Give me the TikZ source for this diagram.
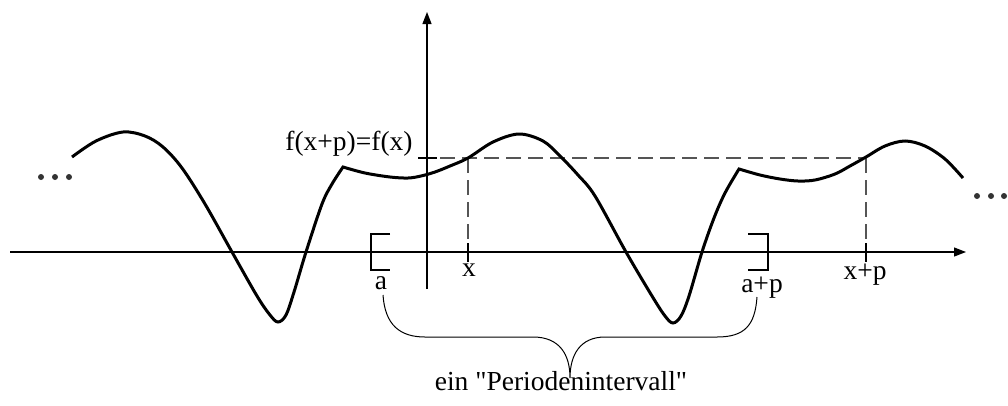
\documentclass[tikz,border=0pt]{standalone}
\usepackage{fontspec}
\setmainfont{Liberation Serif}[Ligatures=TeXOff]
\usepackage{tikz}
\usetikzlibrary{arrows.meta,positioning,calc}
\definecolor{PerInk}{HTML}{000000}
\definecolor{PerDash}{HTML}{555555}
\definecolor{PerDot}{HTML}{333333}
\tikzset{
  figlabel/.style={font=\fontsize{27.5}{30}\selectfont, text=PerInk, inner sep=0pt, anchor=base},
  figaxis/.style={-{Triangle[width=9pt,length=12pt]}, line width=1.2pt, draw=PerInk},
  figcurve/.style={line width=3pt, draw=PerInk, line join=miter},
  figdash/.style={line width=1.3pt, draw=PerDash, dash pattern=on 15pt off 7pt},
  figtick/.style={line width=1.3pt, draw=PerInk},
  figbracket/.style={line width=1.6pt, draw=PerInk},
  figbrace/.style={line width=1pt, draw=PerInk},
  figdot/.style={circle, fill=PerDot, inner sep=0pt, minimum size=6pt}
}

\begin{document}
\begin{tikzpicture}[x=1pt, y=-1pt]
\useasboundingbox (0,0) rectangle (1008,405);
% axes
\coordinate (xl) at (10,252);
\coordinate (xr) at (966,252);
\coordinate (yb) at (427,289);
\coordinate (yt) at (427,12);
\draw[figaxis] (xl) -- (xr);
\draw[figaxis] (yb) -- (yt);
% dashed guides
\coordinate (ya) at (418,158);
\coordinate (fx) at (468,158);
\coordinate (fxp) at (866,158);
\coordinate (xa) at (468,252);
\coordinate (xpa) at (866,252);
\draw[figdash] (ya) -- (fxp);
\draw[figdash] (fx) -- (xa);
\draw[figdash] (fxp) -- (xpa);
\draw[figtick] (ya) -- ++(19,0);
\draw[figtick] ($(xa)+(0,-9)$) -- ($(xa)+(0,10)$);
\draw[figtick] ($(xpa)+(0,-9)$) -- ($(xpa)+(0,10)$);
% the periodic function
\draw[figcurve] plot[smooth, tension=0.55] coordinates {(72,157) (96,141) (123,132) (145,136) (163,147) (182,168) (205,204) (232,252) (257,296) (270,315) (278,322) (286,315) (294,292) (306,252) (322,204) (332,184) (343,167)}
  -- plot[smooth, tension=0.55] coordinates {(343,167) (365,173) (390,177) (408,178) (421,176) (435,172) (450,166) (468,158) (493,142) (519,134) (543,141) (560,156) (578,175) (595,196) (626,252) (652,296) (665,316) (673,323) (681,316) (689,296) (702,252) (714,218) (725,193) (739,169)}
  -- plot[smooth, tension=0.55] coordinates {(739,169) (760,175) (780,179) (798,181) (815,180) (835,174) (850,166) (866,157) (885,146) (905,141) (925,146) (945,159) (963,178)};
% dots
\foreach \i in {41,55,69} \node[figdot] (dl\i) at (\i,177) {};
\foreach \i in {977,991,1004} \node[figdot] (dr\i) at (\i,196) {};
% interval brackets
\draw[figbracket] (390,234) -- (371,234) -- (371,270) -- (390,270);
\draw[figbracket] (748,234) -- (768,234) -- (768,270) -- (748,270);
% labels
\node[figlabel] (fl) at (349,150) {f(x+p)=f(x)};
\node[figlabel] (al) at (381,289) {a};
\node[figlabel] (xlab) at (469,276) {x};
\node[figlabel] (apl) at (762,292) {a+p};
\node[figlabel] (xpl) at (865,279) {x+p};
\node[figlabel] (pl) at (561,390) {ein "Periodenintervall"};
% brace
\coordinate (bl) at (383,295);
\coordinate (bt) at (570,378);
\coordinate (br) at (757,297);
\draw[figbrace] (bl) .. controls (385,325) and (400,337) .. (425,337) -- (533,337)
  .. controls (560,337) and (570,355) .. (bt)
  .. controls (570,355) and (580,337) .. (605,337) -- (717,337)
  .. controls (745,337) and (755,325) .. (br);
\end{tikzpicture}
\end{document}
